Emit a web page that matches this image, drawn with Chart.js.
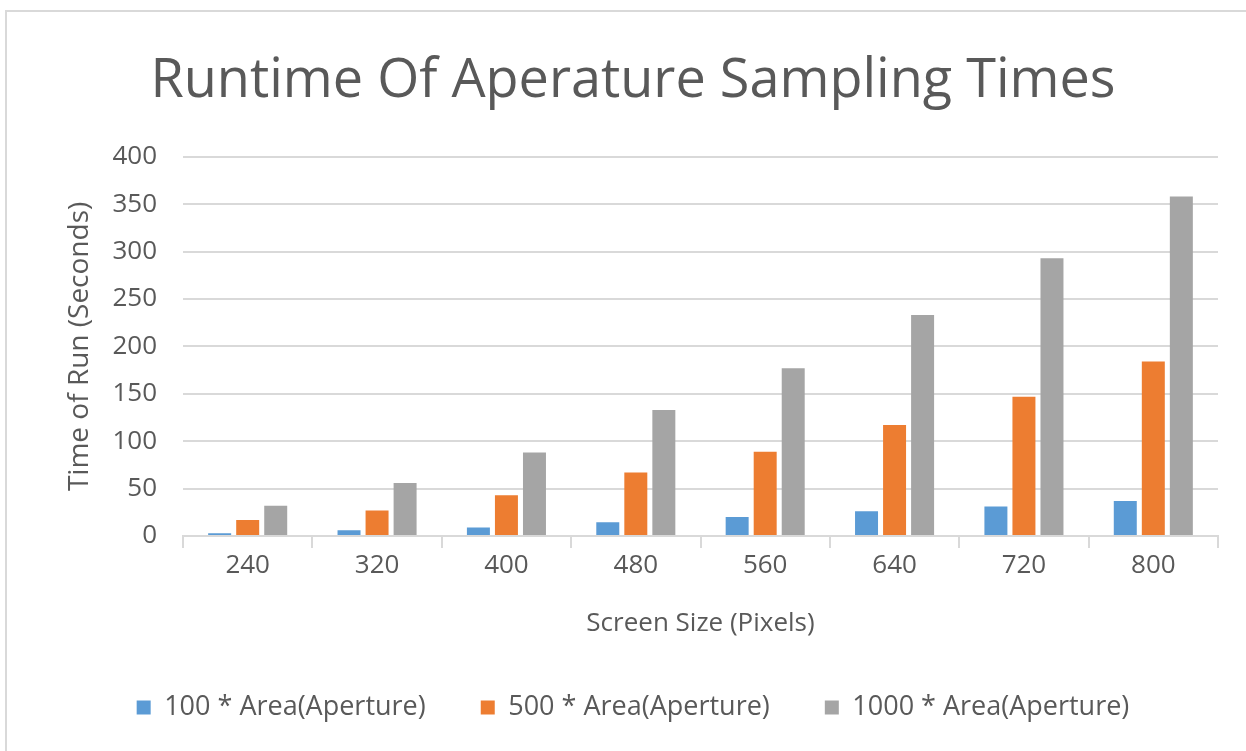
<!DOCTYPE html>
<html>
<head>
<meta charset="utf-8">
<script src="https://cdn.jsdelivr.net/npm/chart.js@4/dist/chart.umd.min.js"></script>
<style>
  html, body { margin: 0; padding: 0; background: #ffffff; }
  #wrap { position: relative; width: 1246px; height: 751px; overflow: hidden; }
  #frame { position: absolute; left: 5px; top: 10px; width: 1300px; height: 800px;
           border-top: 2px solid #d9d9d9; border-left: 2px solid #d9d9d9; box-sizing: border-box; }
  canvas { position: absolute; left: 0; top: 0; }
</style>
</head>
<body>
<div id="wrap">
  <div id="frame"></div>
  <canvas id="chart" width="1246" height="751"></canvas>
</div>
<script>
// Screen sizes tested (pixels)
const screenSizes = ['240', '320', '400', '480', '560', '640', '720', '800'];

// Runtime in seconds for each sampling multiplier
const samples100 = [3, 6, 9, 14.5, 20, 26, 31, 37];
const samples500 = [17, 27, 43, 67, 89, 117, 147, 184];
const samples1000 = [32, 56, 88, 133, 177, 233, 293, 358];

const seriesLabels = ['100 * Area(Aperture)', '500 * Area(Aperture)', '1000 * Area(Aperture)'];
const yTicks = [0, 50, 100, 150, 200, 250, 300, 350, 400];

const textColor = '#595959';
const gridColor = '#d9d9d9';
const fontFamily = "'Open Sans', 'DejaVu Sans', sans-serif";

const barOpts = { categoryPercentage: 0.65, barPercentage: 0.82 };

new Chart(document.getElementById('chart'), {
  type: 'bar',
  data: {
    labels: screenSizes,
    datasets: [
      Object.assign({ label: seriesLabels[0], data: samples100, backgroundColor: '#5b9bd5' }, barOpts),
      Object.assign({ label: seriesLabels[1], data: samples500, backgroundColor: '#ed7d31' }, barOpts),
      Object.assign({ label: seriesLabels[2], data: samples1000, backgroundColor: '#a5a5a5' }, barOpts)
    ]
  },
  options: {
    responsive: false,
    animation: false,
    layout: { padding: { left: 48, right: 28, top: 0, bottom: 20 } },
    plugins: {
      title: {
        display: true,
        text: 'Runtime Of Aperature Sampling Times',
        color: textColor,
        font: { family: fontFamily, size: 54, weight: 'normal' },
        padding: { top: 49, bottom: 43 }
      },
      legend: {
        position: 'bottom',
        labels: {
          color: textColor,
          font: { family: fontFamily, size: 27 },
          boxWidth: 14,
          boxHeight: 14,
          padding: 55
        }
      },
      tooltip: { enabled: false }
    },
    scales: {
      x: {
        grid: { display: true, drawOnChartArea: false, color: gridColor, lineWidth: 2, tickLength: 12, offset: true },
        border: { color: gridColor, width: 2 },
        ticks: { color: textColor, font: { family: fontFamily, size: 26 }, padding: 2 },
        title: {
          display: true,
          text: 'Screen Size (Pixels)',
          color: textColor,
          font: { family: fontFamily, size: 26 },
          padding: { top: 10, bottom: 0 }
        },
        afterFit: (scale) => { scale.height = 103; }
      },
      y: {
        min: 0,
        max: 400,
        afterBuildTicks: (scale) => { scale.ticks = yTicks.map(v => ({ value: v })); },
        grid: { color: gridColor, lineWidth: 2, drawTicks: false },
        border: { display: false },
        ticks: { color: textColor, font: { family: fontFamily, size: 26 }, padding: 26 },
        title: {
          display: true,
          text: 'Time of Run (Seconds)',
          color: textColor,
          font: { family: fontFamily, size: 28 },
          padding: { top: 15, bottom: 0 }
        },
        afterFit: (scale) => { scale.width = 135; }
      }
    }
  }
});
</script>
</body>
</html>
